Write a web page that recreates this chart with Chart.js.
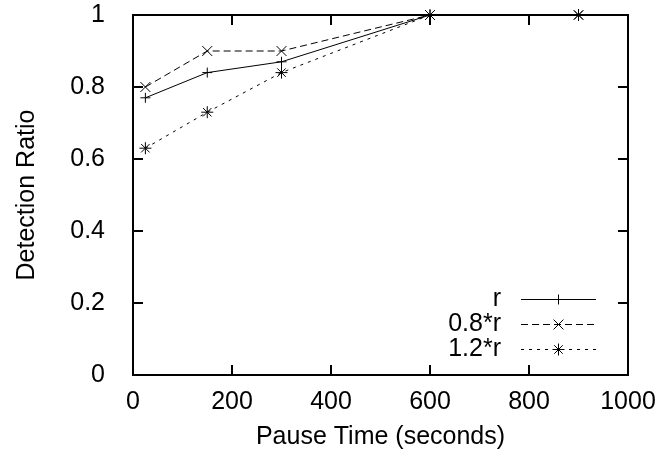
<!DOCTYPE html>
<html>
<head>
<meta charset="utf-8">
<script src="https://cdn.jsdelivr.net/npm/chart.js@4"></script>
<style>
  html, body { margin: 0; padding: 0; background: #fff; }
  #wrap { width: 663px; height: 460px; }
</style>
</head>
<body>
<div id="wrap"><canvas id="chart" width="663" height="460"></canvas></div>
<script>
// data
const pauseTimes = [25, 150, 300, 600, 900];
const ratioR = [0.77, 0.84, 0.87, 1, 1];
const ratio08R = [0.80, 0.90, 0.90, 1, 1];
const ratio12R = [0.63, 0.73, 0.84, 1, 1];
const seriesNames = ["r", "0.8*r", "1.2*r"];
const xTicks = [0, 200, 400, 600, 800, 1000];
const yTicks = [0, 0.2, 0.4, 0.6, 0.8, 1];

const FONT = "'Liberation Sans', Arial, sans-serif";
const FONT_SIZE = 25;

function toPoints(values) {
  return pauseTimes.map((t, i) => ({ x: t, y: values[i] }));
}

// gnuplot-like frame with inward ticks on all four sides
const framePlugin = {
  id: "frame",
  afterDatasetsDraw(chart) {
    const { ctx, chartArea: a, scales } = chart;
    const len = 10;
    ctx.save();
    ctx.strokeStyle = "#000";
    ctx.lineWidth = 2;
    ctx.beginPath();
    xTicks.forEach((v) => {
      const px = Math.round(scales.x.getPixelForValue(v));
      ctx.moveTo(px, a.bottom);
      ctx.lineTo(px, a.bottom - len);
      ctx.moveTo(px, a.top);
      ctx.lineTo(px, a.top + len);
    });
    yTicks.forEach((v) => {
      const py = Math.round(scales.y.getPixelForValue(v));
      ctx.moveTo(a.left, py);
      ctx.lineTo(a.left + len, py);
      ctx.moveTo(a.right, py);
      ctx.lineTo(a.right - len, py);
    });
    ctx.stroke();
    ctx.strokeRect(a.left, a.top, a.right - a.left, a.bottom - a.top);
    ctx.restore();
  },
};

// legend at the lower right, inside the plot
const keyPlugin = {
  id: "key",
  afterDatasetsDraw(chart) {
    const { ctx, chartArea: a } = chart;
    const rowH = 25;
    const lineEnd = a.right - 32;
    const lineStart = lineEnd - 75;
    const textRight = lineStart - 20;
    ctx.save();
    ctx.font = FONT_SIZE + "px " + FONT;
    ctx.textAlign = "right";
    ctx.textBaseline = "middle";
    chart.data.datasets.forEach((ds, i) => {
      const y = a.bottom - 76 + i * rowH;
      ctx.fillStyle = "#000";
      ctx.fillText(ds.label, textRight, y);
      ctx.strokeStyle = "#000";
      ctx.lineWidth = 1;
      ctx.setLineDash(ds.borderDash || []);
      ctx.beginPath();
      ctx.moveTo(lineStart, y + 0.5);
      ctx.lineTo(lineEnd, y + 0.5);
      ctx.stroke();
      ctx.setLineDash([]);
      Chart.helpers.drawPoint(ctx, {
        pointStyle: ds.pointStyle,
        radius: ds.pointRadius,
        borderWidth: 1,
        rotation: 0,
      }, (lineStart + lineEnd) / 2, y + 0.5);
    });
    ctx.restore();
  },
};

const lineStyle = {
  borderColor: "#000",
  backgroundColor: "#000",
  borderWidth: 1,
  pointBorderColor: "#000",
  pointBorderWidth: 1,
  fill: false,
  tension: 0,
};

new Chart(document.getElementById("chart"), {
  type: "line",
  data: {
    datasets: [
      { ...lineStyle, label: seriesNames[0], data: toPoints(ratioR), pointStyle: "cross",
        pointRadius: 5, pointHoverRadius: 5 },
      { ...lineStyle, label: seriesNames[1], data: toPoints(ratio08R), pointStyle: "crossRot",
        pointRadius: 7, pointHoverRadius: 7, borderDash: [7, 4] },
      { ...lineStyle, label: seriesNames[2], data: toPoints(ratio12R), pointStyle: "star",
        pointRadius: 6, pointHoverRadius: 6, borderDash: [3, 5] },
    ],
  },
  options: {
    responsive: false,
    animation: false,
    clip: false,
    layout: { padding: { top: 15, right: 35, left: 0, bottom: 0 } },
    plugins: { legend: { display: false }, tooltip: { enabled: false } },
    scales: {
      x: {
        type: "linear",
        min: 0,
        max: 1000,
        afterBuildTicks: (s) => { s.ticks = xTicks.map((v) => ({ value: v })); },
        afterFit: (s) => {
          s.height = 85;
          s.paddingLeft = 0;
          s.paddingRight = 0;
        },
        grid: { display: false },
        border: { display: false },
        ticks: {
          color: "#000",
          font: { family: FONT, size: FONT_SIZE },
          padding: 4,
          maxRotation: 0,
          callback: (v) => String(v),
        },
        title: {
          display: true,
          text: "Pause Time (seconds)",
          color: "#000",
          font: { family: FONT, size: FONT_SIZE },
          padding: { top: 0, bottom: 8 },
        },
      },
      y: {
        type: "linear",
        min: 0,
        max: 1,
        afterBuildTicks: (s) => { s.ticks = yTicks.map((v) => ({ value: v })); },
        afterFit: (s) => {
          s.width = 133;
          s.paddingTop = 0;
          s.paddingBottom = 0;
        },
        grid: { display: false },
        border: { display: false },
        ticks: {
          color: "#000",
          font: { family: FONT, size: FONT_SIZE },
          padding: 20,
          callback: (v) => String(Math.round(v * 10) / 10),
        },
        title: {
          display: true,
          text: "Detection Ratio",
          color: "#000",
          font: { family: FONT, size: FONT_SIZE },
          padding: { top: 12, bottom: 0 },
        },
      },
    },
  },
  plugins: [framePlugin, keyPlugin],
});
</script>
</body>
</html>
